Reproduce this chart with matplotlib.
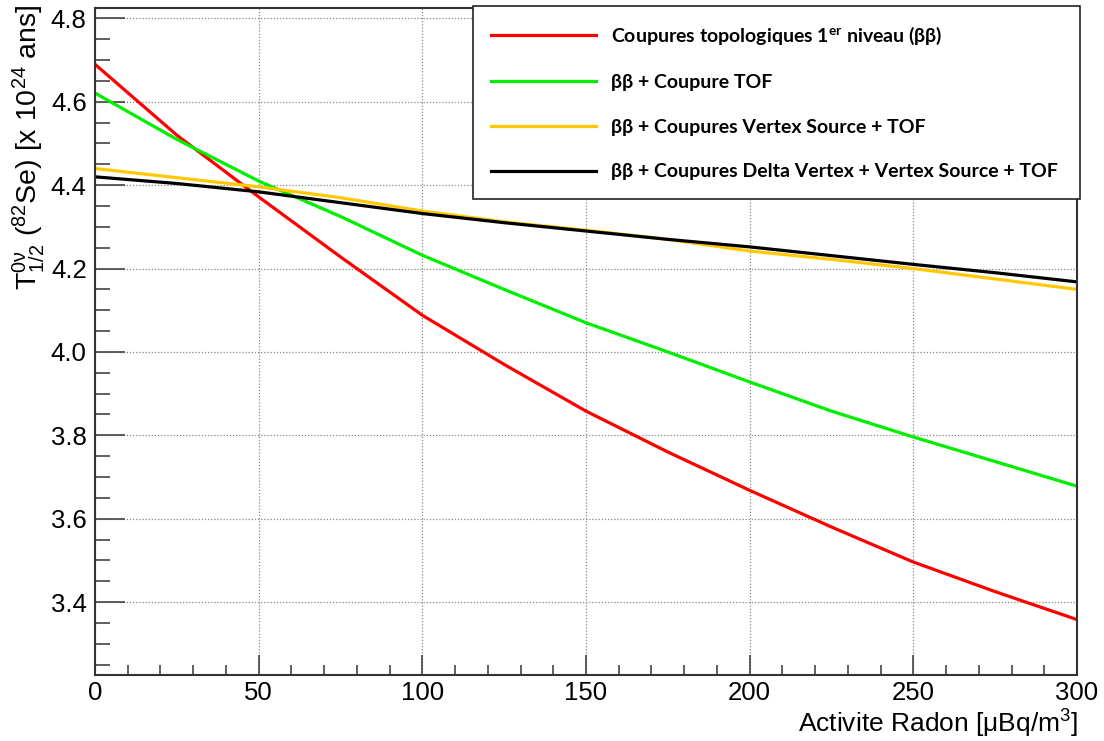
import matplotlib
matplotlib.use("Agg")
import matplotlib.pyplot as plt
from matplotlib.ticker import MultipleLocator

# ---- data ----
radon = [0, 25, 50, 75, 100, 125, 150, 175, 200, 225, 250, 275, 300]
red_topo = [4.69, 4.52, 4.372, 4.228, 4.088, 3.97, 3.858, 3.76, 3.668, 3.58, 3.496, 3.425, 3.358]
green_tof = [4.621, 4.51, 4.41, 4.325, 4.232, 4.15, 4.07, 4.0, 3.928, 3.858, 3.796, 3.737, 3.678]
yellow_vs = [4.44, 4.418, 4.396, 4.37, 4.338, 4.312, 4.292, 4.27, 4.242, 4.222, 4.200, 4.175, 4.150]
black_dv = [4.42, 4.404, 4.384, 4.358, 4.332, 4.31, 4.29, 4.27, 4.252, 4.231, 4.210, 4.19, 4.168]

labels = [
    r"Coupures topologiques 1$\mathregular{^{er}}$ niveau (ββ)",
    "ββ + Coupure TOF",
    "ββ + Coupures Vertex Source + TOF",
    "ββ + Coupures Delta Vertex + Vertex Source + TOF",
]
colors = ["#ff0000", "#00ee00", "#ffc800", "#000000"]

xlabel = r"Activite Radon [$\mathregular{\mu}$Bq/m$\mathregular{^{3}}$]"
ylabel = r"$\mathregular{T^{0\nu}_{1/2}}$ ($\mathregular{^{82}}$Se) [x 10$\mathregular{^{24}}$ ans]"

plt.rcParams["font.family"] = ["Liberation Sans", "DejaVu Sans"]

W, H = 1104, 741
fig = plt.figure(figsize=(W / 100, H / 100), dpi=100)
ax = fig.add_axes([95 / W, 66 / H, (1077 - 95) / W, (675 - 8) / H])

series = [red_topo, green_tof, yellow_vs, black_dv]
handles = []
for vals, c, lab in zip(series, colors, labels):
    h, = ax.plot(radon, vals, color=c, lw=2.3, label=lab, solid_joinstyle="round")
    handles.append(h)

ax.set_xlim(0, 300)
ax.set_ylim(3.225, 4.825)
ax.xaxis.set_major_locator(MultipleLocator(50))
ax.xaxis.set_minor_locator(MultipleLocator(10))
ax.yaxis.set_major_locator(MultipleLocator(0.2))
ax.yaxis.set_minor_locator(MultipleLocator(0.05))
ax.yaxis.set_major_formatter(matplotlib.ticker.FormatStrFormatter("%.1f"))

ax.grid(True, which="major", linestyle=(0, (1, 1.5)), color="#888888", lw=0.9)
ax.set_axisbelow(True)

ax.tick_params(axis="both", which="both", direction="in", color="#444444",
               width=1.2, labelsize=18.5, top=False, right=False)
ax.tick_params(axis="y", which="major", length=21.6, pad=6)
ax.tick_params(axis="y", which="minor", length=10.8)
ax.tick_params(axis="x", which="major", length=14.4, pad=4)
ax.tick_params(axis="x", which="minor", length=7.2)

for s in ax.spines.values():
    s.set_color("#333333")
    s.set_linewidth(1.5)

fig.text(1078 / W, 1 - 724 / H, xlabel, ha="right", va="center", fontsize=19)
fig.text(29 / W, 1 - 4 / H, ylabel, ha="center", va="top", rotation=90, fontsize=20.5)

leg = ax.legend(handles=handles, labels=labels, loc="upper left",
                bbox_to_anchor=(473 / W, 1 - 6 / H, (1080 - 473) / W, 0.0),
                bbox_transform=fig.transFigure, mode="expand",
                prop={"family": ["Lato", "DejaVu Sans"], "weight": "bold", "size": 14},
                frameon=True, fancybox=False, shadow=False, framealpha=1,
                edgecolor="#222222", borderpad=0.95, labelspacing=1.42,
                handlelength=5.4, handletextpad=0.75, borderaxespad=0)
leg.get_frame().set_linewidth(1.2)
for lh in leg.get_lines():
    lh.set_linewidth(2.3)

fig.savefig("out.png", dpi=100)
